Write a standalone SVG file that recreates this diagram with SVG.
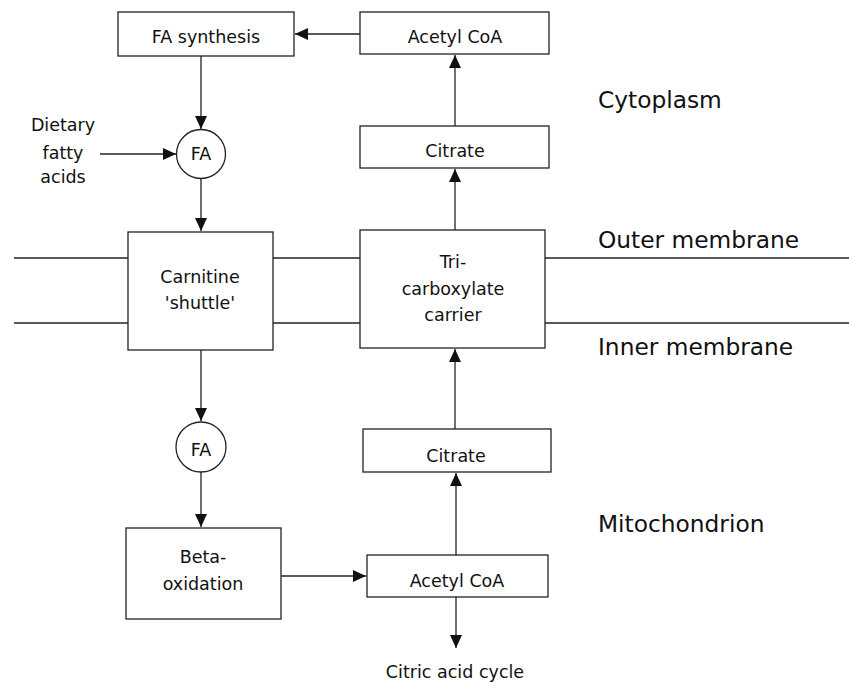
<svg xmlns="http://www.w3.org/2000/svg" width="849" height="683" viewBox="0 0 849 683">
<style>
.box{fill:#fff;stroke:#222;stroke-width:1.3}
.ln{fill:none;stroke:#222;stroke-width:1.3}
.t{font-family:"DejaVu Sans",sans-serif;font-size:17.5px;fill:#111;text-anchor:middle}
.r{font-family:"DejaVu Sans",sans-serif;font-size:23.3px;fill:#111}
</style>
<defs>
<marker id="ah" markerUnits="userSpaceOnUse" markerWidth="15" markerHeight="15" viewBox="0 0 15 15" refX="14" refY="7.5" orient="auto">
<path d="M1,1.5 L14,7.5 L1,13.5 Z" fill="#111"/>
</marker>
</defs>
<rect width="849" height="683" fill="#fff"/>
<g id="membranes">
<line class="ln" x1="14" y1="258" x2="128" y2="258"/>
<line class="ln" x1="273" y1="258" x2="360" y2="258"/>
<line class="ln" x1="545" y1="258" x2="849" y2="258"/>
<line class="ln" x1="14" y1="323" x2="128" y2="323"/>
<line class="ln" x1="273" y1="323" x2="360" y2="323"/>
<line class="ln" x1="545" y1="323" x2="849" y2="323"/>
</g>
<g id="connectors">
<line class="ln" x1="360" y1="34" x2="295" y2="34" marker-end="url(#ah)"/>
<line class="ln" x1="455" y1="126" x2="455" y2="55" marker-end="url(#ah)"/>
<line class="ln" x1="455" y1="230" x2="455" y2="169" marker-end="url(#ah)"/>
<line class="ln" x1="201" y1="56" x2="201" y2="129" marker-end="url(#ah)"/>
<line class="ln" x1="100" y1="154" x2="176" y2="154" marker-end="url(#ah)"/>
<line class="ln" x1="201" y1="179" x2="201" y2="231" marker-end="url(#ah)"/>
<line class="ln" x1="201" y1="350" x2="201" y2="421" marker-end="url(#ah)"/>
<line class="ln" x1="201" y1="472" x2="201" y2="527" marker-end="url(#ah)"/>
<line class="ln" x1="281" y1="576" x2="366" y2="576" marker-end="url(#ah)"/>
<line class="ln" x1="456" y1="555" x2="456" y2="473" marker-end="url(#ah)"/>
<line class="ln" x1="455" y1="429" x2="455" y2="349" marker-end="url(#ah)"/>
<line class="ln" x1="456" y1="597" x2="456" y2="648" marker-end="url(#ah)"/>
</g>
<g id="fa-synthesis"><rect class="box" x="118" y="12" width="176" height="44"/><text class="t" x="206" y="43">FA synthesis</text></g>
<g id="acetylcoa-top"><rect class="box" x="360" y="12" width="189" height="42"/><text class="t" x="455" y="43">Acetyl CoA</text></g>
<g id="citrate-top"><rect class="box" x="360" y="126" width="189" height="42"/><text class="t" x="455" y="157">Citrate</text></g>
<g id="dietary"><text class="t" x="63" y="131">Dietary</text><text class="t" x="63" y="159">fatty</text><text class="t" x="63" y="183">acids</text></g>
<g id="fa-top"><circle class="box" cx="201" cy="154" r="24.5"/><text class="t" x="201" y="160">FA</text></g>
<g id="carnitine"><rect class="box" x="128" y="232" width="145" height="118"/><text class="t" x="200" y="283">Carnitine</text><text class="t" x="200" y="309">'shuttle'</text></g>
<g id="carrier"><rect class="box" x="360" y="230" width="185" height="118"/><text class="t" x="453" y="268">Tri-</text><text class="t" x="453" y="295">carboxylate</text><text class="t" x="453" y="321">carrier</text></g>
<g id="fa-bottom"><circle class="box" cx="201" cy="447" r="25"/><text class="t" x="201" y="456">FA</text></g>
<g id="beta-oxidation"><rect class="box" x="126" y="528" width="155" height="91"/><text class="t" x="203" y="563">Beta-</text><text class="t" x="203" y="590">oxidation</text></g>
<g id="citrate-bottom"><rect class="box" x="363" y="429" width="188" height="43"/><text class="t" x="456" y="462">Citrate</text></g>
<g id="acetylcoa-bottom"><rect class="box" x="367" y="555" width="181" height="42"/><text class="t" x="457" y="587">Acetyl CoA</text></g>
<g id="citric"><text class="t" x="455" y="678">Citric acid cycle</text></g>
<g id="labels">
<text class="r" x="598" y="108">Cytoplasm</text>
<text class="r" x="598" y="248">Outer membrane</text>
<text class="r" x="598" y="355">Inner membrane</text>
<text class="r" x="598" y="532">Mitochondrion</text>
</g>
</svg>
